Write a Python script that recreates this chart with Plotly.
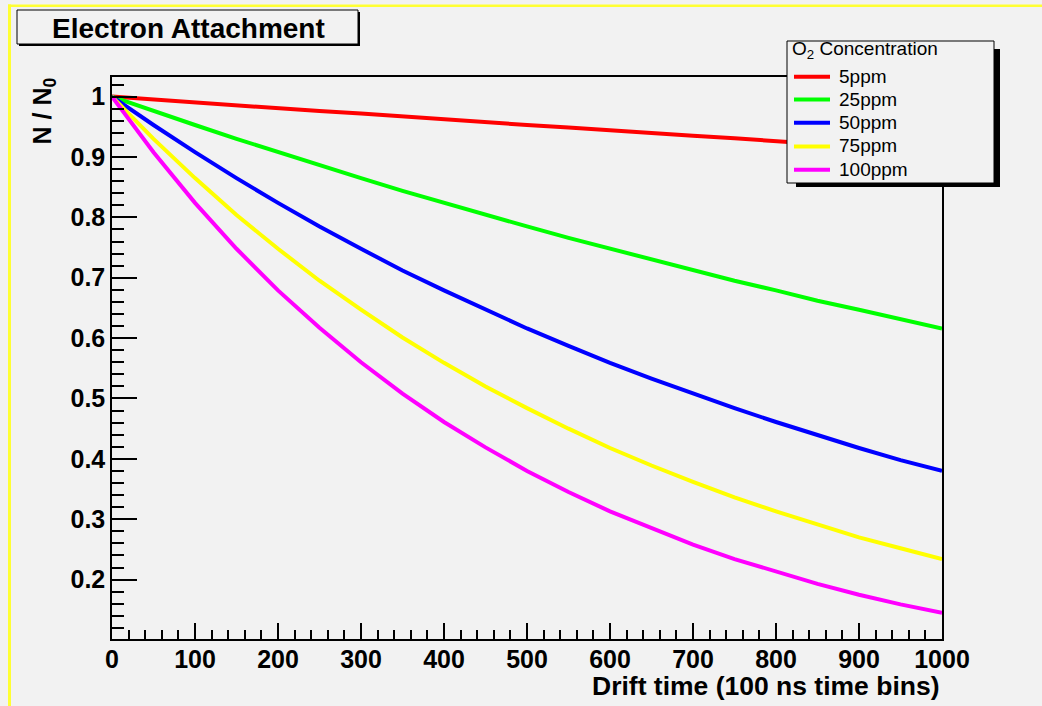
import plotly.graph_objects as go

# ---------------- data ----------------
drift_time = [0, 50, 100, 150, 200, 250, 300, 350, 400, 450, 500,
              550, 600, 650, 700, 750, 800, 850, 900, 950, 1000]

ppm5 = [1.000, 0.995, 0.990, 0.986, 0.981, 0.976, 0.972, 0.967, 0.962, 0.958, 0.953,
        0.949, 0.944, 0.940, 0.935, 0.931, 0.926, 0.922, 0.917, 0.913, 0.909]
ppm25 = [1.000, 0.976, 0.953, 0.930, 0.908, 0.886, 0.865, 0.844, 0.824, 0.804, 0.785,
         0.766, 0.748, 0.730, 0.712, 0.695, 0.679, 0.662, 0.647, 0.631, 0.616]
ppm50 = [1.000, 0.953, 0.908, 0.865, 0.824, 0.785, 0.748, 0.712, 0.679, 0.647, 0.616,
         0.587, 0.559, 0.533, 0.508, 0.484, 0.461, 0.439, 0.418, 0.398, 0.380]
ppm75 = [1.000, 0.930, 0.865, 0.804, 0.748, 0.695, 0.647, 0.601, 0.559, 0.520, 0.484,
         0.450, 0.418, 0.389, 0.362, 0.336, 0.313, 0.291, 0.270, 0.252, 0.234]
ppm100 = [1.000, 0.908, 0.824, 0.748, 0.679, 0.617, 0.560, 0.508, 0.461, 0.419, 0.380,
          0.345, 0.313, 0.285, 0.258, 0.234, 0.213, 0.193, 0.175, 0.159, 0.145]

series_names = ["5ppm", "25ppm", "50ppm", "75ppm", "100ppm"]
series_values = [ppm5, ppm25, ppm50, ppm75, ppm100]
series_colors = ["#ff0000", "#00ff00", "#0000ff", "#ffff00", "#ff00ff"]

title_text = "Electron Attachment"
x_title = "Drift time (100 ns time bins)"
y_title = "N / N<sub>0</sub>"
legend_title = "O<sub>2</sub> Concentration"

# ---------------- layout geometry (pixels) ----------------
W, H = 1042, 706
L, R, T, B = 112, 942, 77, 639
PW, PH = R - L, B - T


def px(x):
    return (x - L) / PW


def py(y):
    return (B - y) / PH


BG = "#f2f2f2"
FONT = "Liberation Sans, Arial, Helvetica, sans-serif"

fig = go.Figure()
for name, vals, col in zip(series_names, series_values, series_colors):
    fig.add_trace(go.Scatter(x=drift_time, y=vals, mode="lines", name=name,
                             line=dict(color=col, width=4), showlegend=False))

shapes = []
annotations = []

# yellow canvas edges
shapes.append(dict(type="rect", xref="paper", yref="paper", x0=px(8), x1=px(1042),
                   y0=py(7), y1=py(4.5), fillcolor="#ffff33", line=dict(width=0)))
shapes.append(dict(type="rect", xref="paper", yref="paper", x0=px(8), x1=px(11),
                   y0=py(706), y1=py(4.5), fillcolor="#ffff33", line=dict(width=0)))

# title box with shadow
shapes.append(dict(type="rect", xref="paper", yref="paper", x0=px(19), x1=px(360),
                   y0=py(46), y1=py(12), fillcolor="black", line=dict(width=0)))
shapes.append(dict(type="rect", xref="paper", yref="paper", x0=px(17), x1=px(358),
                   y0=py(44), y1=py(10), fillcolor=BG, line=dict(color="black", width=1)))
annotations.append(dict(text="<b>" + title_text + "</b>", xref="paper", yref="paper",
                        x=px(188), y=py(28), xanchor="center", yanchor="middle",
                        showarrow=False, font=dict(family=FONT, size=28, color="black")))

# legend box with shadow
shapes.append(dict(type="rect", xref="paper", yref="paper", x0=px(796), x1=px(1000),
                   y0=py(187), y1=py(49), fillcolor="black", line=dict(width=0)))
shapes.append(dict(type="rect", xref="paper", yref="paper", x0=px(787), x1=px(994),
                   y0=py(183), y1=py(41), fillcolor=BG, line=dict(color="black", width=1)))
annotations.append(dict(text=legend_title, xref="paper", yref="paper",
                        x=px(790), y=py(50), xanchor="left", yanchor="middle",
                        showarrow=False, font=dict(family=FONT, size=19, color="black")))
item_y = [76.7, 99.5, 122.8, 146.4, 169.7]
for name, col, yy in zip(series_names, series_colors, item_y):
    shapes.append(dict(type="line", xref="paper", yref="paper", x0=px(794), x1=px(830),
                       y0=py(yy), y1=py(yy), line=dict(color=col, width=4)))
    annotations.append(dict(text=name, xref="paper", yref="paper",
                            x=px(837), y=py(yy - 0.5), xanchor="left", yanchor="middle",
                            showarrow=False, font=dict(family=FONT, size=19, color="black")))

# axis titles
annotations.append(dict(text="<b>" + x_title + "</b>", xref="paper", yref="paper",
                        x=px(942), y=py(686), xanchor="right", yanchor="middle",
                        showarrow=False, font=dict(family=FONT, size=26.5, color="black")))
annotations.append(dict(text="<b>" + y_title + "</b>", xref="paper", yref="paper",
                        x=px(44), y=py(76), xanchor="center", yanchor="top", textangle=-90,
                        showarrow=False, font=dict(family=FONT, size=25, color="black")))

axis_common = dict(showgrid=False, zeroline=False, showline=True, linecolor="black",
                   linewidth=1.5, mirror=True, ticks="inside", tickcolor="black",
                   tickwidth=1.5,
                   tickfont=dict(family=FONT, size=25, color="black", weight="bold"))

fig.update_layout(
    width=W, height=H,
    margin=dict(l=L, r=W - R, t=T, b=H - B, pad=0),
    paper_bgcolor=BG, plot_bgcolor=BG,
    showlegend=False,
    shapes=shapes, annotations=annotations,
    xaxis=dict(range=[0, 1000], tick0=0, dtick=100, ticklen=16, ticklabelstandoff=-3,
               minor=dict(ticks="inside", dtick=20, ticklen=9, tickcolor="black", tickwidth=1.5),
               **axis_common),
    yaxis=dict(range=[0.1016, 1.0325], tick0=0, dtick=0.1, ticklen=25,
               minor=dict(ticks="inside", dtick=0.02, ticklen=12, tickcolor="black", tickwidth=1.5),
               **axis_common),
)

fig.write_html("out.html")
